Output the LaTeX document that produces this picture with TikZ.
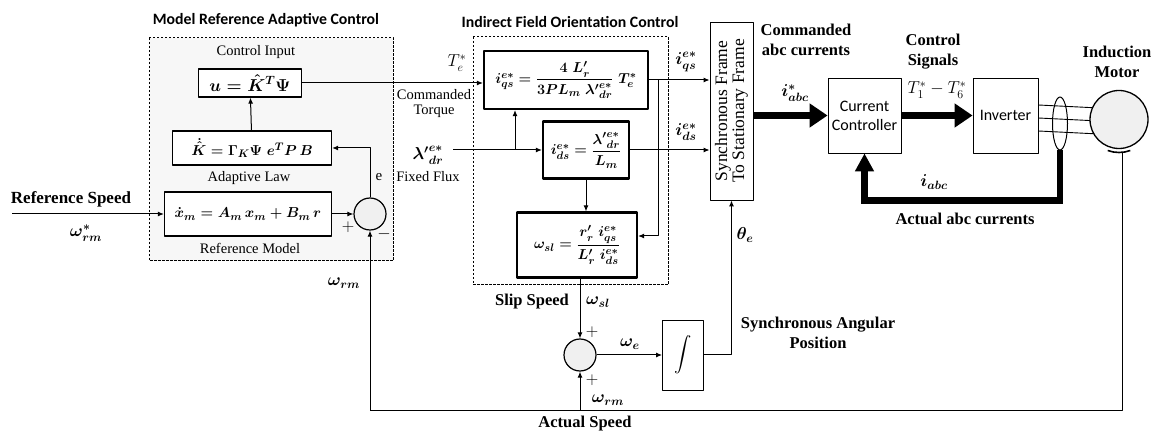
\documentclass[tikz,border=0pt]{standalone}
\usepackage{amsmath}
\usepackage{fontspec}
\setmainfont{Liberation Serif}
\newfontfamily\calibri{Carlito}
\usetikzlibrary{arrows.meta,positioning,shapes.geometric,backgrounds}

\begin{document}
\begin{tikzpicture}[x=1pt, y=-1pt, line join=round, >={Latex[length=6pt,width=5pt]},
    blk/.style={draw, line width=1.3pt, fill=white, inner sep=1pt, font=\fontsize{15.5}{17}\selectfont\boldmath},
    fblk/.style={blk, line width=2.2pt},
    tblk/.style={draw, line width=0.8pt, fill=white, align=center, inner sep=1pt, font=\calibri\fontsize{16}{19}\selectfont},
    summ/.style={draw, circle, line width=1.2pt, fill=gray!12, minimum size=32pt, inner sep=0pt},
    lbl/.style={font=\fontsize{14.5}{15}\selectfont, align=center, inner sep=1pt},
    blbl/.style={font=\bfseries\fontsize{16.5}{20}\selectfont, align=center, inner sep=1pt},
    mlbl/.style={font=\fontsize{16.5}{18}\selectfont\boldmath, inner sep=1pt},
    ttl/.style={font=\calibri\bfseries\fontsize{15.8}{17}\selectfont},
    dashbox/.style={dash pattern=on 2.5pt off 1.5pt, line width=1pt},
    sig/.style={->, line width=1pt},
    bus/.style={line width=6.5pt, line join=miter}]
    \useasboundingbox (0,0) rectangle (1157,435);
    % frames of the two controllers
    \draw[dashbox, fill=gray!6] (149,38) rectangle (393,261);
    \draw[dashbox] (473,37) rectangle (668,285);
    \node[ttl] (t1) at (266,20) {Model Reference Adaptive Control};
    \node[ttl] (t2) at (570,22) {Indirect Field Orientation Control};

    % MRAC
    \node[blk, minimum width=103pt, minimum height=28pt, font=\fontsize{17}{19}\selectfont\boldmath] (u) at (250,83) {$u = \hat{K}^{T}\Psi$};
    \node[lbl] (cin) at (256,52) {Control Input};
    \node[blk, minimum width=159pt, minimum height=34pt] (khat) at (252,148) {$\dot{\hat{K}} = \Gamma_{K}\Psi\; e^{T}P\,B$};
    \node[lbl] (alaw) at (249,178) {Adaptive Law};
    \node[blk, minimum width=167pt, minimum height=44pt] (rm) at (248,214) {$\dot{x}_{m} = A_{m}\,x_{m} + B_{m}\,r$};
    \node[lbl] (rml) at (250,248) {Reference Model};
    \node[summ] (s1) at (370,214) {};
    \coordinate (rin) at (12,214);
    \draw[sig] (rin) -- (rm.west);
    \node[blbl, font=\bfseries\fontsize{17}{19}\selectfont] (rsp) at (71,199) {Reference Speed};
    \node[mlbl] (wref) at (86,233) {$\omega^{*}_{rm}$};
    \draw[sig] (rm) -- (s1);
    \draw[sig] (s1.north) |- (khat.east);
    \draw[sig] (khat) -- (u);
    \node[lbl, font=\fontsize{15}{16}\selectfont] (el) at (379,177) {e};
    \node[font=\fontsize{17}{18}\selectfont] (p1) at (348,227) {$+$};
    \node[font=\fontsize{17}{18}\selectfont] (m1) at (384,234) {$-$};
    \node[mlbl] (wrm1) at (344,283) {$\omega_{rm}$};

    % IFOC
    \node[fblk, minimum width=164pt, minimum height=58pt] (iqs) at (566,80) {$i^{e*}_{qs} = \dfrac{4\;L'_{r}}{3PL_{m}\;{\lambda'}^{e*}_{dr}}\;T^{*}_{e}$};
    \node[fblk, minimum width=86pt, minimum height=57pt] (ids) at (586,150) {$i^{e*}_{ds} = \dfrac{{\lambda'}^{e*}_{dr}}{L_{m}}$};
    \node[fblk, minimum width=120pt, minimum height=65pt] (wsl) at (577,245) {$\omega_{sl} = \dfrac{r'_{r}\;i^{e*}_{qs}}{L'_{r}\;i^{e*}_{ds}}$};
    \node[draw, line width=0.9pt, minimum width=43pt, minimum height=178pt] (sync) at (731.5,111) {};
    \node[rotate=90, align=center, inner sep=0pt, font=\fontsize{17.5}{17}\selectfont] (syncl) at (sync) {Synchronous Frame\\To Stationary Frame};

    \draw[sig] (u.east) -- (u.east -| iqs.west);
    \node[font=\fontsize{17}{19}\selectfont] (tel) at (457,63) {$T^{*}_{e}$};
    \node[lbl] (ctq) at (434,104) {Commanded\\Torque};
    \coordinate (lin) at (453,150);
    \coordinate (lb) at (515,150);
    \node[mlbl] (lam) at (428,155) {${\lambda'}^{e*}_{dr}$};
    \node[lbl] (ffx) at (428,177) {Fixed Flux};
    \draw[sig] (lin) -- (ids.west);
    \draw[sig] (lb) -- (lb |- iqs.south);
    \draw[sig] (iqs.east) -- (iqs.east -| sync.west);
    \draw[sig] (ids.east) -- (ids.east -| sync.west);
    \node[mlbl] (iqsl) at (686,62) {$i^{e*}_{qs}$};
    \node[mlbl] (idsl) at (686,132) {$i^{e*}_{ds}$};
    \coordinate (qb) at (658,80);
    \draw[sig] (qb) |- ([yshift=9pt]wsl.east);
    \draw[sig] (ids.south) -- (ids.south |- wsl.north);

    % slip + rotor speed, integrator
    \node[summ] (s2) at (580,355) {};
    \draw[sig] (s2 |- wsl.south) -- (s2.north);
    \node[blbl] (slp) at (532,302) {Slip Speed};
    \node[mlbl] (wsll) at (598,302) {$\omega_{sl}$};
    \node[font=\fontsize{17}{18}\selectfont] (p2) at (592,332) {$+$};
    \node[font=\fontsize{17}{18}\selectfont] (p3) at (592,380) {$+$};
    \node[draw, line width=0.9pt, minimum width=41pt, minimum height=70pt, font=\fontsize{18}{19}\selectfont] (intg) at (683,355) {$\displaystyle\int$};
    \draw[sig] (s2) -- (intg);
    \node[mlbl] (wel) at (630,344) {$\omega_{e}$};
    \draw[sig] (intg.east) -| (sync.south);
    \node[mlbl] (thl) at (745,235) {$\theta_{e}$};
    \node[blbl] (sap) at (818,333) {Synchronous Angular\\Position};

    % current loop and motor
    \node[tblk, minimum width=73pt, minimum height=75pt] (cc) at (864.5,115.5) {Current\\Controller};
    \node[tblk, minimum width=65pt, minimum height=75pt] (inv) at (1005.5,115.5) {Inverter};
    \draw[bus, -{Triangle[length=18pt,width=23pt]}] (sync.east |- cc) -- (cc.west);
    \draw[bus, -{Triangle[length=18pt,width=23pt]}] (cc) -- (inv);
    \node[blbl] (cabc) at (806,40) {Commanded\\abc currents};
    \node[mlbl] (iabcs) at (795,93) {$i^{*}_{abc}$};
    \node[blbl] (csig) at (933,52) {Control\\Signals};
    \node[font=\fontsize{17}{19}\selectfont] (tsig) at (937,90) {$T^{*}_{1} - T^{*}_{6}$};
    \node[circle, draw, line width=1.3pt, fill=gray!12, minimum size=58pt] (im) at (1119,119.5) {};
    \node[blbl] (iml) at (1117,62) {Induction\\Motor};
    \begin{scope}[on background layer]
      \foreach \dy in {10.5,-2.5,-15.5}
        \draw[line width=0.9pt] ([yshift=\dy pt]inv.east) -- ([yshift=\dy pt]im.center);
    \end{scope}
    \node[ellipse, draw, line width=1pt, minimum width=15pt, minimum height=53pt, inner sep=0pt] (clamp) at (1060,123.5) {};
    \draw[line width=1.6pt] (im.center) ++(70:33) arc[start angle=70, end angle=110, radius=33];
    \draw[bus, -{Triangle[length=18pt,width=18pt]}] (clamp.south) -- ++(0,50) -| (cc.south);
    \node[mlbl] (iabc) at (934,182) {$i_{abc}$};
    \node[blbl] (aabc) at (965,219) {Actual abc currents};

    % speed feedback
    \path (1122,152) coordinate (foot) (1122,411) coordinate (fr) (370,411) coordinate (fl) (580,411) coordinate (fm);
    \draw[line width=1pt] (foot) -- (fr) -- (fl);
    \draw[sig] (fl) -- (s1.south);
    \draw[sig] (fm) -- (s2.south);
    \node[mlbl] (wrm2) at (608,400) {$\omega_{rm}$};
    \node[blbl] (asp) at (585,424) {Actual Speed};
\end{tikzpicture}
\end{document}
